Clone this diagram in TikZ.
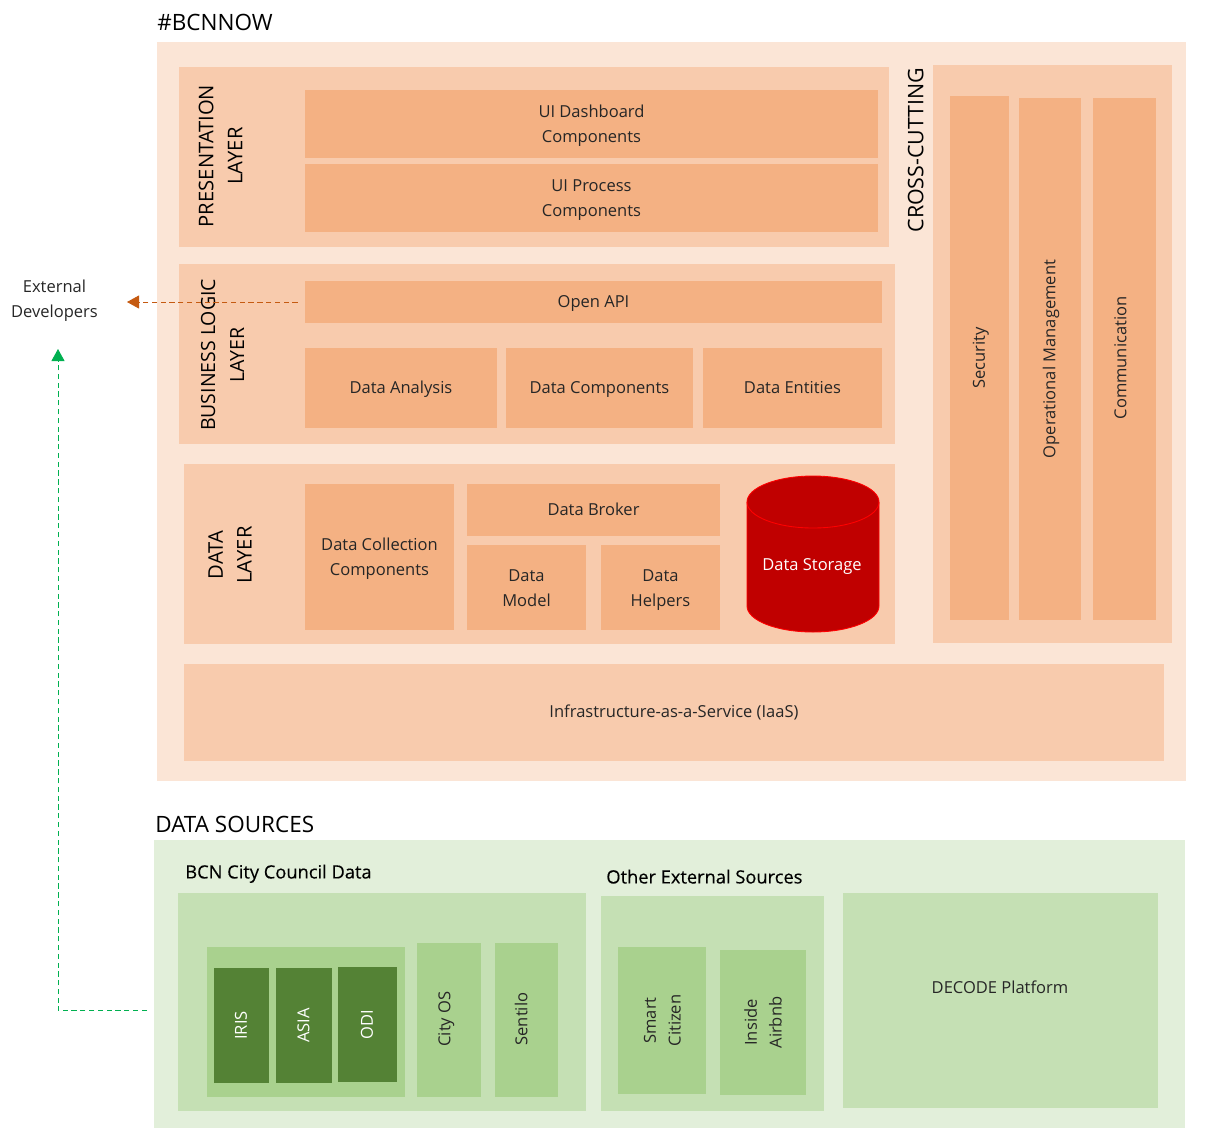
\documentclass[tikz,border=0pt]{standalone}
\usepackage{fontspec}
\setmainfont{Open Sans}
\newfontfamily\subfont[FakeBold=0.3]{Open Sans}
\usetikzlibrary{arrows.meta}
\definecolor{peachA}{HTML}{FBE5D6}
\definecolor{peachB}{HTML}{F8CBAD}
\definecolor{peachC}{HTML}{F4B183}
\definecolor{greenA}{HTML}{E2EFDA}
\definecolor{greenB}{HTML}{C5E0B4}
\definecolor{greenC}{HTML}{A9D18E}
\definecolor{greenD}{HTML}{548235}
\definecolor{storage}{HTML}{C00000}
\definecolor{apiline}{HTML}{C55A11}
\definecolor{feedline}{HTML}{00B050}
\newcommand{\firstline}{\rule{0pt}{9.9pt}}
\begin{document}
\begin{tikzpicture}[
x=0.2mm,
y=-0.2mm,
every node/.style={
    inner sep=0pt,
    align=center,
    text=black!85,
    font=\fontsize{9.4}{14.2}\selectfont,
    execute at begin node={\rule[-2.8pt]{0pt}{11.8pt}},
    execute at end node={\rule[-2.8pt]{0pt}{11.8pt}}
},
sz/.style 2 args={minimum width=#1*0.2mm,minimum height=#2*0.2mm},
peach1/.style={fill=peachA},
peach2/.style={fill=peachB},
peach3/.style={fill=peachC},
green1/.style={fill=greenA},
green2/.style={fill=greenB},
green3/.style={fill=greenC},
green4/.style={fill=greenD,text=white},
heading/.style={font=\fontsize{12.8}{14}\selectfont,text=black,anchor=west},
subheading/.style={font=\subfont\fontsize{10.4}{14}\selectfont,text=black,anchor=west},
layername/.style={font=\fontsize{11.5}{16.4}\selectfont,text=black,rotate=90,
    execute at begin node={},execute at end node={}},
drum/.style={fill=storage,draw=red,line width=0.5pt,x radius=13.2mm,y radius=5.2mm},
flow/.style={-{Triangle[length=12*0.2mm,width=13*0.2mm]},densely dashed,line width=0.5pt}
]
\useasboundingbox (0,0) rectangle (1205,1141);

%---------------- BCNNOW ----------------
\node[heading] (bcnnow) at (157,25) {\#BCNNOW};
\node[peach1,sz={1029}{739}] (platform) at (671.5,411.5) {};

\node[peach2,sz={710}{180}] (presentation) at (534,157) {};
\node[layername] (presentationname) at (223,156) {PRESENTATION\\LAYER};
\node[peach3,sz={573}{68}] (dashboard) at (591.5,124) {\firstline UI Dashboard\\Components};
\node[peach3,sz={573}{68}] (process) at (591.5,198) {\firstline UI Process\\Components};

\node[peach2,sz={716}{180}] (business) at (537,354) {};
\node[layername,font=\fontsize{11.1}{16.4}\selectfont] (businessname) at (225,355) {BUSINESS LOGIC\\LAYER};
\node[peach3,sz={577}{42}] (openapi) at (593.5,302) {Open API};
\node[peach3,sz={192}{80}] (analysis) at (401,388) {Data Analysis};
\node[peach3,sz={187}{80}] (components) at (599.5,388) {Data Components};
\node[peach3,sz={179}{80}] (entities) at (792.5,388) {Data Entities};

\node[peach2,sz={711}{180}] (datalayer) at (539.5,554) {};
\node[layername] (dataname) at (232.5,555) {DATA\\LAYER};
\node[peach3,sz={149}{146}] (collection) at (379.5,557) {\firstline Data Collection\\Components};
\node[peach3,sz={253}{52}] (broker) at (593.5,510) {Data Broker};
\node[peach3,sz={119}{85}] (model) at (526.5,587.5) {\firstline Data\\Model};
\node[peach3,sz={119}{85}] (helpers) at (660.5,587.5) {\firstline Data\\Helpers};
\draw[drum] (747,502) arc[start angle=180,end angle=0] -- (879,606)
    arc[start angle=0,end angle=-180] -- cycle;
\draw[drum,fill=none] (747,502) arc[start angle=180,end angle=360];
\node[text=white] (datastorage) at (812,565) {Data Storage};

\node[layername,font=\fontsize{12.2}{16.4}\selectfont] (crossname) at (918,150) {CROSS-CUTTING};
\node[peach2,sz={239}{578}] (crosscutting) at (1052.5,354) {};
\node[peach3,rotate=90,sz={524}{59}] (security) at (979.5,358) {Security};
\node[peach3,rotate=90,sz={522}{62}] (operational) at (1050,359) {Operational Management};
\node[peach3,rotate=90,sz={522}{63}] (communication) at (1124.5,359) {};
\node[rotate=90] (communicationname) at (1121,358) {Communication};

\node[peach2,sz={980}{97}] (iaas) at (674,712.5) {Infrastructure-as-a-Service (IaaS)};

%---------------- Data sources ----------------
\node[heading] (sourcestitle) at (155,827) {DATA SOURCES};
\node[green1,sz={1031}{288}] (sources) at (669.5,984) {};

\node[subheading] (bcntitle) at (185,873) {BCN City Council Data};
\node[green2,sz={408}{218}] (bcndata) at (382,1002) {};
\node[green3,sz={198}{150}] (portals) at (306,1022) {};
\node[green4,rotate=90,sz={115}{55}] (iris) at (241.5,1025.5) {IRIS};
\node[green4,rotate=90,sz={115}{56}] (asia) at (304,1025.5) {ASIA};
\node[green4,rotate=90,sz={115}{59}] (odi) at (367.5,1024.5) {ODI};
\node[green3,rotate=90,sz={154}{64}] (cityos) at (449,1020) {};
\node[rotate=90] (cityosname) at (445,1019) {City OS};
\node[green3,rotate=90,sz={154}{63}] (sentilo) at (526.5,1020) {};
\node[rotate=90] (sentiloname) at (522,1019) {Sentilo};

\node[subheading] (othertitle) at (606,878) {Other External Sources};
\node[green2,sz={223}{215}] (othersources) at (712.5,1003.5) {};
\node[green3,rotate=90,sz={147}{88}] (smartcitizen) at (662,1020.5) {\firstline Smart\\Citizen};
\node[green3,rotate=90,sz={145}{86}] (airbnb) at (763,1022.5) {\firstline Inside\\Airbnb};

\node[green2,sz={315}{215}] (decode) at (1000.5,1000.5) {};
\node (decodename) at (1000,988) {DECODE Platform};

%---------------- External developers ----------------
\node (developers) at (54.5,299) {\firstline External\\Developers};
\coordinate (apiend) at (127,302);
\coordinate (feedstart) at (147,1010.6);
\coordinate (feedend) at (58,349);

\draw[flow,apiline,shorten <=7*0.2mm] (openapi.west|-apiend) -- (apiend);
\draw[flow,feedline] (feedstart) -| (feedend);

\end{tikzpicture}
\end{document}
